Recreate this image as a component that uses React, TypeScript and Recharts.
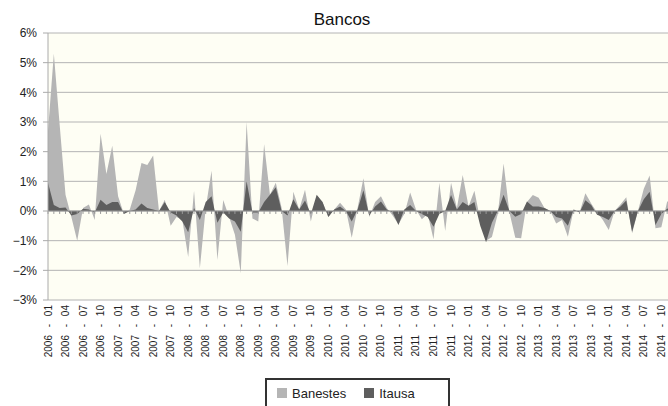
import React from 'react';
import { AreaChart, Area, XAxis, YAxis, CartesianGrid, ReferenceLine, Legend } from 'recharts';

const FONT = '"Liberation Sans", Arial, sans-serif';

const years = [2006, 2007, 2008, 2009, 2010, 2011, 2012, 2013, 2014];
const monthNums = ['01', '02', '03', '04', '05', '06', '07', '08', '09', '10', '11', '12'];
const months = years.flatMap((y) => monthNums.map((m) => `${y} - ${m}`));

// monthly returns in %
const banestes = [
  2.7, 5.3, 2.9, 0.55, -0.2, -1.0, 0.1, 0.22, -0.3, 2.6, 1.25, 2.2,
  0.5, -0.1, 0.05, 0.7, 1.62, 1.55, 1.87, 0.0, 0.38, -0.5, -0.2, -0.3,
  -1.55, 0.68, -1.93, 0.1, 1.36, -1.65, 0.37, -0.2, -0.8, -2.1, 3.0, -0.25,
  -0.35, 2.25, 0.55, 0.95, 0.1, -1.85, 0.65, 0.05, 0.72, -0.35, 0.5, 0.3,
  -0.2, 0.05, 0.28, 0.05, -0.9, 0.1, 1.1, -0.2, 0.3, 0.5, 0.1, -0.15,
  -0.45, -0.1, 0.62, 0.05, -0.28, -0.1, -0.95, 0.95, -0.67, 0.95, 0.1, 1.21,
  0.15, 0.68, -0.3, -1.0, -0.88, -0.1, 1.6, -0.05, -0.9, -0.92, 0.3, 0.54,
  0.45, 0.1, 0.0, -0.42, -0.3, -0.87, 0.05, -0.05, 0.6, 0.25, -0.05, -0.3,
  -0.64, 0.0, 0.22, 0.46, -0.75, 0.0, 0.75, 1.2, -0.58, -0.55, 0.32, 0.35,
];

const itausa = [
  0.95, 0.2, 0.1, 0.12, -0.15, -0.1, 0.08, 0.05, -0.05, 0.38, 0.2, 0.3,
  0.3, -0.1, 0.0, 0.05, 0.25, 0.1, 0.05, 0.0, 0.3, -0.05, -0.15, -0.35,
  -0.72, 0.1, -0.3, 0.3, 0.5, -0.4, -0.05, -0.25, -0.35, -0.7, 1.0, -0.05,
  -0.05, 0.3, 0.55, 0.8, 0.0, -0.15, 0.4, 0.05, 0.35, -0.1, 0.55, 0.3,
  -0.2, 0.05, 0.15, 0.0, -0.35, 0.05, 0.7, -0.15, 0.15, 0.32, 0.05, -0.05,
  -0.47, 0.05, 0.2, 0.0, -0.1, -0.2, -0.53, -0.1, 0.0, 0.54, 0.05, 0.3,
  0.18, 0.3, -0.5, -1.05, -0.4, 0.0, 0.55, 0.0, -0.19, -0.1, 0.32, 0.15,
  0.15, 0.1, 0.0, -0.2, -0.25, -0.5, 0.05, -0.05, 0.36, 0.2, -0.13, -0.2,
  -0.3, 0.0, 0.15, 0.35, -0.7, 0.0, 0.4, 0.65, -0.47, -0.1, 0.08, 0.1,
];

const yTicks = [-3, -2, -1, 0, 1, 2, 3, 4, 5, 6];

const LIGHT = '#b5b5b5';
const DARK = '#5e5e5e';

const data = months.map((m, i) => ({ month: m, Banestes: banestes[i], Itausa: itausa[i] }));

const fmtPct = (v: number) => (v < 0 ? `\u2212${Math.abs(v)}%` : `${v}%`);

const MonthTick = (props: any) => {
  const { x, y, payload } = props;
  return (
    <text
      x={x}
      y={y}
      transform={`rotate(-90 ${x} ${y})`}
      textAnchor="end"
      dy="0.35em"
      fontSize={10}
      fill="#222"
      style={{ wordSpacing: 5, fontFamily: FONT }}
    >
      {payload.value}
    </text>
  );
};

const LegendBox = () => (
  <div
    style={{
      marginTop: 8,
      height: 40,
      boxSizing: 'border-box',
      borderTop: '2px solid #333',
      borderLeft: '2px solid #333',
      borderRight: '2px solid #333',
      display: 'flex',
      alignItems: 'center',
      paddingLeft: 10,
      paddingBottom: 12,
      fontSize: 13,
      color: '#222',
      fontFamily: FONT,
    }}
  >
    <span style={{ width: 10, height: 10, background: LIGHT, display: 'inline-block' }} />
    <span style={{ marginLeft: 5 }}>Banestes</span>
    <span style={{ width: 10, height: 10, background: DARK, display: 'inline-block', marginLeft: 18 }} />
    <span style={{ marginLeft: 5 }}>Itausa</span>
  </div>
);

export default function App() {
  return (
    <div style={{ position: 'relative', width: 668, height: 406, overflow: 'hidden', fontFamily: FONT }}>
      <style>{'body{margin:0;overflow:hidden}'}</style>
      <div style={{ position: 'absolute', top: 10, left: 0, width: 684, textAlign: 'center', fontSize: 17, color: '#111' }}>
        Bancos
      </div>
      <AreaChart width={675} height={406} data={data} margin={{ top: 33, right: 2, bottom: 0, left: 0 }}>
        <CartesianGrid vertical={false} stroke="#b4b4b4" fill="#fefef4" />
        <XAxis
          dataKey="month"
          interval={2}
          tick={<MonthTick />}
          axisLine={false}
          tickLine={false}
          tickSize={5}
          tickMargin={0}
          height={70}
        />
        <YAxis
          domain={[-3, 6]}
          ticks={yTicks}
          width={48}
          tickFormatter={fmtPct}
          axisLine={{ stroke: '#aaa' }}
          tickLine={{ stroke: '#aaa' }}
          tickSize={5}
          tickMargin={6}
          tick={{ fontSize: 12, fill: '#222', fontFamily: FONT }}
        />
        <Area type="linear" dataKey="Banestes" baseValue={0} stroke="none" fill={LIGHT} fillOpacity={1} isAnimationActive={false} />
        <Area type="linear" dataKey="Itausa" baseValue={0} stroke="none" fill={DARK} fillOpacity={1} isAnimationActive={false} />
        <ReferenceLine y={0} stroke="#9a9a9a" />
        {months.map((m) => (
          <ReferenceLine key={m} segment={[{ x: m, y: 0 }, { x: m, y: -0.1 }]} stroke="#9a9a9a" />
        ))}
        <Legend verticalAlign="bottom" content={<LegendBox />} wrapperStyle={{ left: 265, width: 185, height: 36, bottom: 0 }} />
      </AreaChart>
    </div>
  );
}
